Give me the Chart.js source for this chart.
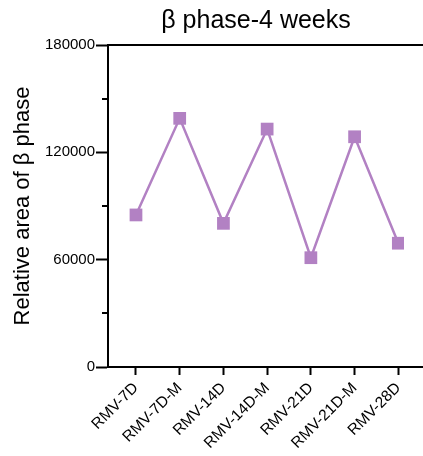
<!DOCTYPE html>
<html>
<head>
<meta charset="utf-8">
<script src="https://cdn.jsdelivr.net/npm/chart.js@4.4.1/dist/chart.umd.min.js"></script>
<style>
  html, body { margin: 0; padding: 0; background: #fff; }
  canvas { display: block; }
</style>
</head>
<body>
<canvas id="chart" width="423" height="456"></canvas>
<script>
const categories = ["RMV-7D", "RMV-7D-M", "RMV-14D", "RMV-14D-M", "RMV-21D", "RMV-21D-M", "RMV-28D"];
const areaValues = [85000, 139000, 80300, 133000, 61100, 128700, 69200];
const majorTicks = [0, 60000, 120000, 180000];
const minorTicks = [30000, 90000, 150000];

const purple = "#b281c3";
const fontFamily = "Arial, 'Liberation Sans', Helvetica, sans-serif";

// frame lines run past the plot to the right edge, plus short minor ticks
const framePlugin = {
    id: "frame",
    afterDraw(chart) {
        const ctx = chart.ctx;
        const area = chart.chartArea;
        const y = chart.scales.y;
        ctx.save();
        ctx.strokeStyle = "#000";
        ctx.lineWidth = 2;
        ctx.beginPath();
        ctx.moveTo(area.left - 1, area.top);
        ctx.lineTo(chart.width, area.top);
        ctx.moveTo(area.right - 1, area.bottom);
        ctx.lineTo(chart.width, area.bottom);
        minorTicks.forEach((v) => {
            const py = Math.round(y.getPixelForValue(v));
            ctx.moveTo(area.left - 6, py);
            ctx.lineTo(area.left, py);
        });
        ctx.stroke();
        ctx.restore();
    },
};

new Chart(document.getElementById("chart"), {
    type: "line",
    data: {
        datasets: [
            {
                data: areaValues.map((v, i) => ({ x: i, y: v })),
                borderColor: purple,
                backgroundColor: purple,
                borderWidth: 2.5,
                pointStyle: "rect",
                pointRadius: 9,
                pointBorderWidth: 0,
                pointBackgroundColor: purple,
                tension: 0,
            },
        ],
    },
    options: {
        responsive: false,
        animation: false,
        layout: { padding: { right: 19 } },
        plugins: {
            legend: { display: false },
            tooltip: { enabled: false },
            title: {
                display: true,
                text: "β phase-4 weeks",
                fullSize: false,
                color: "#000",
                font: { family: fontFamily, size: 25, weight: "normal" },
                padding: { top: 6, bottom: 9 },
            },
        },
        scales: {
            x: {
                type: "linear",
                min: -0.64,
                max: 6.13,
                afterBuildTicks: (scale) => {
                    scale.ticks = categories.map((c, i) => ({ value: i }));
                },
                afterFit: (scale) => {
                    scale.height = 89;
                },
                grid: {
                    drawOnChartArea: false,
                    tickLength: 8,
                    tickWidth: 2,
                    tickColor: "#000",
                },
                border: { display: true, color: "#000", width: 2 },
                ticks: {
                    autoSkip: false,
                    maxRotation: 45,
                    minRotation: 45,
                    padding: 4,
                    color: "#000",
                    font: { family: fontFamily, size: 15.5 },
                    callback: (v) => categories[v],
                },
            },
            y: {
                min: 0,
                max: 180000,
                afterBuildTicks: (scale) => {
                    scale.ticks = majorTicks.map((v) => ({ value: v }));
                },
                afterFit: (scale) => {
                    scale.width = 108;
                },
                grid: {
                    drawOnChartArea: false,
                    tickLength: 12,
                    tickWidth: 2,
                    tickColor: "#000",
                },
                border: { display: true, color: "#000", width: 2 },
                ticks: {
                    padding: 1,
                    color: "#000",
                    font: { family: fontFamily, size: 15 },
                    callback: (v) => String(v),
                },
                title: {
                    display: true,
                    text: "Relative area of β phase",
                    color: "#000",
                    font: { family: fontFamily, size: 22 },
                    padding: { top: 10, bottom: 0 },
                },
            },
        },
    },
    plugins: [framePlugin],
});
</script>
</body>
</html>
